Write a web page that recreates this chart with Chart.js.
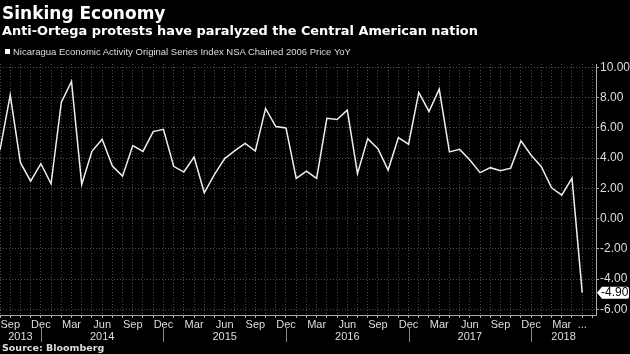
<!DOCTYPE html>
<html>
<head>
<meta charset="utf-8">
<script src="https://cdn.jsdelivr.net/npm/chart.js@4.4.1/dist/chart.umd.min.js"></script>
<style>
  html, body { margin: 0; padding: 0; background: #000; }
  #wrap { position: relative; width: 630px; height: 354px; overflow: hidden; background: #000; }
  #chart { position: absolute; left: 0; top: 0; }
  .t { position: absolute; color: #fff; white-space: nowrap; }
  #title { left: 2px; top: 3px; font: bold 17px/20px "DejaVu Sans", sans-serif; }
  #subtitle { left: 2px; top: 23px; font: bold 12.9px/15px "DejaVu Sans", sans-serif; }
  #legend { left: 5px; top: 46px; font: 9.5px/11px "Liberation Sans", sans-serif; color: #ddd; }
  #legend .box { display: inline-block; width: 5px; height: 5px; background: #fff; margin-right: 3px; vertical-align: 1px; }
  #source { left: 2px; top: 343px; font: bold 9.5px/10px "DejaVu Sans", sans-serif; color: #ddd; }
</style>
</head>
<body>
<div id="wrap">
  <canvas id="chart" width="630" height="354"></canvas>
  <div class="t" id="title">Sinking Economy</div>
  <div class="t" id="subtitle">Anti-Ortega protests have paralyzed the Central American nation</div>
  <div class="t" id="legend"><span class="box"></span>Nicaragua Economic Activity Original Series Index NSA Chained 2006 Price YoY</div>
  <div class="t" id="source">Source: Bloomberg</div>
</div>
<script>
// Monthly data, Aug 2013 .. May 2018
const months = [
  "Aug 2013", "Sep 2013", "Oct 2013", "Nov 2013", "Dec 2013",
  "Jan 2014", "Feb 2014", "Mar 2014", "Apr 2014", "May 2014", "Jun 2014",
  "Jul 2014", "Aug 2014", "Sep 2014", "Oct 2014", "Nov 2014", "Dec 2014",
  "Jan 2015", "Feb 2015", "Mar 2015", "Apr 2015", "May 2015", "Jun 2015",
  "Jul 2015", "Aug 2015", "Sep 2015", "Oct 2015", "Nov 2015", "Dec 2015",
  "Jan 2016", "Feb 2016", "Mar 2016", "Apr 2016", "May 2016", "Jun 2016",
  "Jul 2016", "Aug 2016", "Sep 2016", "Oct 2016", "Nov 2016", "Dec 2016",
  "Jan 2017", "Feb 2017", "Mar 2017", "Apr 2017", "May 2017", "Jun 2017",
  "Jul 2017", "Aug 2017", "Sep 2017", "Oct 2017", "Nov 2017", "Dec 2017",
  "Jan 2018", "Feb 2018", "Mar 2018", "Apr 2018", "May 2018"
];
const values = [
  4.54, 8.17, 3.70, 2.48, 3.63,
  2.30, 7.69, 9.08, 2.26, 4.45, 5.25, 3.48, 2.81, 4.83, 4.45, 5.76, 5.91,
  3.46, 3.08, 4.07, 1.71, 2.92, 3.97, 4.50, 4.98, 4.47, 7.29, 6.09, 6.00,
  2.66, 3.14, 2.66, 6.64, 6.56, 7.18, 2.97, 5.29, 4.63, 3.21, 5.36, 4.92,
  8.35, 7.09, 8.57, 4.41, 4.58, 3.88, 3.04, 3.37, 3.17, 3.34, 5.14, 4.19,
  3.43, 2.04, 1.55, 2.68, -4.90
];
const quarterMonths = ["Mar", "Jun", "Sep", "Dec"];
const yearLabels = ["2013", "2014", "2015", "2016", "2017", "2018"];

const gridColor = "#4d4d4d";
const axisColor = "#aaaaaa";
const textColor = "#dddddd";

function monthTick(v) {
  if (v === months.length - 1) return "...";
  const m = months[v];
  if (!m) return "";
  const mon = m.slice(0, 3);
  return quarterMonths.includes(mon) ? mon : "";
}

// year row under the month labels, split at each December
const yearRow = {
  id: "yearRow",
  afterDraw(chart) {
    const xs = chart.scales.x;
    const ctx = chart.ctx;
    const decs = months.map((m, i) => m.startsWith("Dec") ? i : -1).filter(i => i >= 0);
    ctx.save();
    ctx.strokeStyle = "#888";
    ctx.lineWidth = 1;
    decs.forEach(i => {
      const px = Math.round(xs.getPixelForValue(i)) + 0.5;
      ctx.beginPath();
      ctx.moveTo(px, xs.top + 12);
      ctx.lineTo(px, xs.top + 27);
      ctx.stroke();
    });
    ctx.fillStyle = textColor;
    ctx.font = '11px "Liberation Sans"';
    ctx.textAlign = "center";
    ctx.textBaseline = "alphabetic";
    let start = xs.min;
    yearLabels.forEach((yr, k) => {
      const end = k < decs.length ? decs[k] : xs.max;
      const mid = (xs.getPixelForValue(start) + xs.getPixelForValue(end)) / 2;
      ctx.fillText(yr, mid, xs.top + 24.5);
      start = end;
    });
    ctx.restore();
  }
};

// last value tag on the right axis
const lastTag = {
  id: "lastTag",
  afterDraw(chart) {
    const meta = chart.getDatasetMeta(0);
    const pt = meta.data[meta.data.length - 1];
    const ctx = chart.ctx;
    const x0 = chart.chartArea.right + 1;
    const x1 = chart.width - 1;
    const y = pt.y;
    const h = 6;
    ctx.save();
    ctx.fillStyle = "#ffffff";
    ctx.beginPath();
    ctx.moveTo(x0, y);
    ctx.lineTo(x0 + 5, y - h);
    ctx.lineTo(x1 - 2, y - h);
    ctx.quadraticCurveTo(x1, y - h, x1, y - h + 2);
    ctx.lineTo(x1, y + h - 2);
    ctx.quadraticCurveTo(x1, y + h, x1 - 2, y + h);
    ctx.lineTo(x0 + 5, y + h);
    ctx.closePath();
    ctx.fill();
    ctx.fillStyle = "#000";
    ctx.font = '12px "Liberation Sans"';
    ctx.textAlign = "left";
    ctx.textBaseline = "middle";
    ctx.fillText(values[values.length - 1].toFixed(2), x0 + 4, y + 0.5);
    ctx.restore();
  }
};

const ctx = document.getElementById("chart").getContext("2d");
const chart = new Chart(ctx, {
  type: "line",
  data: {
    datasets: [{
      label: "Nicaragua Economic Activity Original Series Index NSA Chained 2006 Price YoY",
      data: values.map((v, i) => ({ x: i, y: v })),
      borderColor: "#eeeeee",
      borderWidth: 1.5,
      pointRadius: 0,
      tension: 0,
      fill: false
    }]
  },
  options: {
    responsive: false,
    animation: false,
    layout: { padding: { top: 64, left: 0, right: 0, bottom: 0 } },
    plugins: {
      legend: { display: false },
      tooltip: { enabled: false }
    },
    scales: {
      x: {
        type: "linear",
        position: "bottom",
        min: 0,
        max: 58.35,
        afterFit: s => { s.height = 39; },
        ticks: {
          stepSize: 1,
          autoSkip: false,
          includeBounds: false,
          maxRotation: 0,
          padding: 0,
          color: textColor,
          font: { family: "Liberation Sans", size: 11 },
          callback: v => monthTick(v)
        },
        grid: {
          color: gridColor,
          lineWidth: 1,
          tickLength: 3,
          tickColor: axisColor,
          tickBorderDash: []
        },
        border: { display: true, color: axisColor, dash: [1, 2] }
      },
      y: {
        type: "linear",
        position: "right",
        min: -6.38,
        max: 10.23,
        afterFit: s => { s.width = 34; },
        ticks: {
          stepSize: 1,
          includeBounds: false,
          padding: 1,
          color: textColor,
          font: { family: "Liberation Sans", size: 12 },
          callback: v => (Math.round(v) % 2 === 0 ? v.toFixed(2) : "")
        },
        grid: {
          color: c => (c.tick && Math.round(c.tick.value) % 2 === 0 ? gridColor : "rgba(0,0,0,0)"),
          lineWidth: 1,
          tickLength: 3,
          tickColor: axisColor,
          tickBorderDash: []
        },
        border: { display: true, color: axisColor, dash: [1, 2] }
      }
    }
  },
  plugins: [yearRow, lastTag]
});
</script>
</body>
</html>
